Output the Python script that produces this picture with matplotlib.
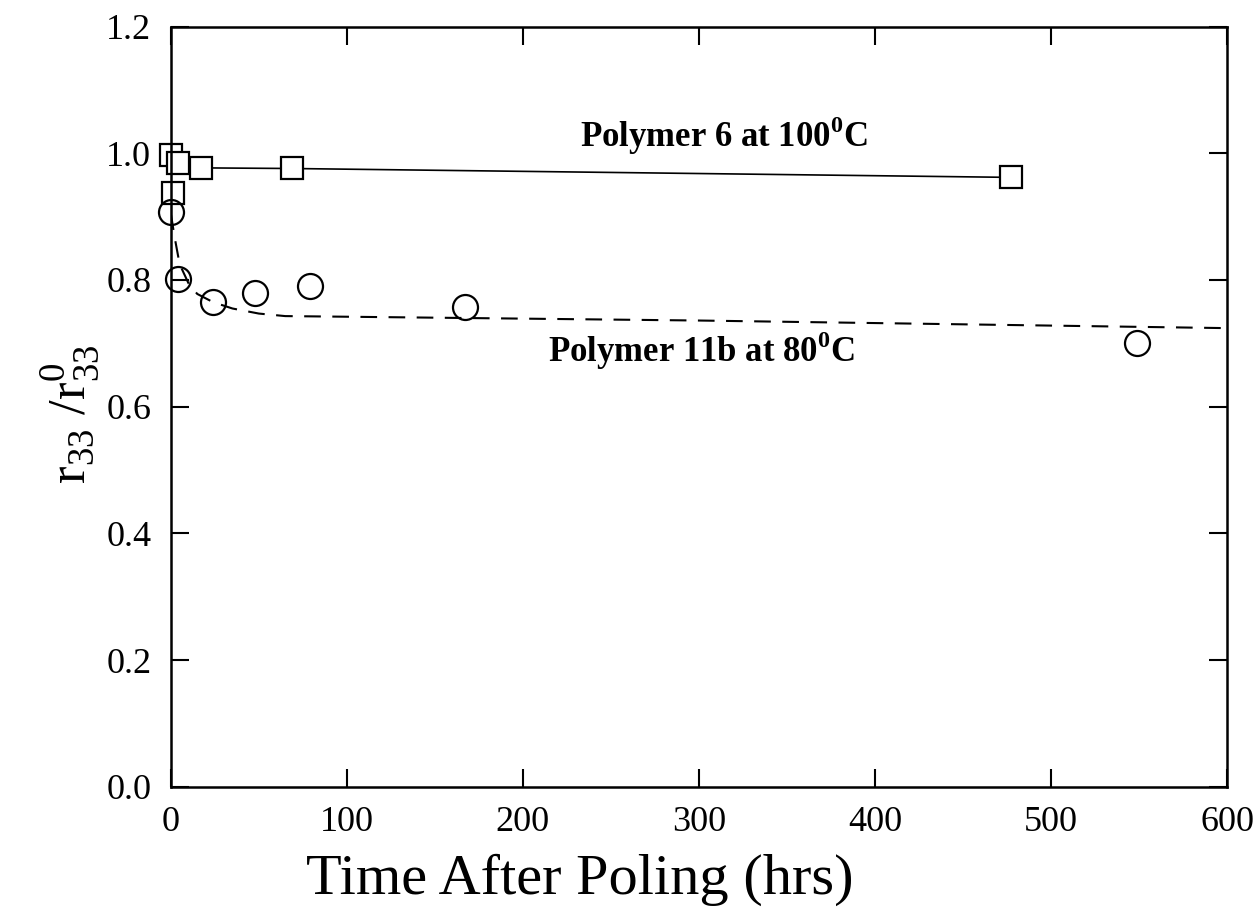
"""
Poling stability of two polymers
r33 / r33(0) against time after poling
"""

import matplotlib
matplotlib.use("Agg")
import matplotlib.pyplot as plt

plt.rcParams["font.family"] = ["Liberation Serif", "DejaVu Serif"]
plt.rcParams["mathtext.fontset"] = "custom"
plt.rcParams["mathtext.rm"] = "Liberation Serif"
plt.rcParams["mathtext.bf"] = "Liberation Serif:bold"

# polymer 6 at 100 C (squares + solid fit)
p6_time = [0, 4, 17, 69, 477, 1]
p6_ratio = [0.998, 0.985, 0.977, 0.977, 0.962, 0.937]
p6_fit_time = [0, 4, 17, 69, 477]
p6_fit_ratio = [0.998, 0.985, 0.977, 0.976, 0.962]

# polymer 11b at 80 C (circles + dashed fit)
p11_time = [0, 4, 24, 48, 79, 167, 549]
p11_ratio = [0.908, 0.802, 0.766, 0.780, 0.791, 0.757, 0.700]
p11_fit_time = [0, 2, 5, 10, 15, 24, 35, 50, 65, 100, 200, 300, 400, 500, 600]
p11_fit_ratio = [0.905, 0.870, 0.825, 0.795, 0.778, 0.765, 0.755, 0.747,
                 0.743, 0.742, 0.739, 0.736, 0.732, 0.728, 0.724]

x_ticks = [0, 100, 200, 300, 400, 500, 600]
y_ticks = [0.0, 0.2, 0.4, 0.6, 0.8, 1.0, 1.2]

# --------------------------------------------------

fig = plt.figure(figsize=(12.56, 9.18), dpi=100)
ax = fig.add_axes([0.136, 0.143, 0.841, 0.828])

ax.plot(p6_fit_time, p6_fit_ratio, color="black", lw=1.2)
ax.plot(p11_fit_time, p11_fit_ratio, color="black", lw=1.5,
        dashes=(8, 5.5))

ax.plot(p6_time, p6_ratio, ls="none", marker="s", ms=16.5,
        mfc="white", mec="black", mew=1.6, clip_on=False)
ax.plot(p11_time, p11_ratio, ls="none", marker="o", ms=18,
        mfc="none", mec="black", mew=1.6, clip_on=False)

ax.set_xlim(0, 600)
ax.set_ylim(0, 1.2)
ax.set_xticks(x_ticks)
ax.set_yticks(y_ticks)
ax.set_xticklabels([str(t) for t in x_ticks])
ax.set_yticklabels([f"{t:.1f}" for t in y_ticks])

ax.tick_params(direction="in", length=13, width=1.5, top=True,
               right=True, labelsize=26, pad=14)
for s in ax.spines.values():
    s.set_linewidth(1.8)

ax.set_xlabel("Time After Poling (hrs)", fontsize=42, va="center")
ax.xaxis.set_label_coords(0.387, -0.122)
ax.set_ylabel(r"r$_{\mathrm{33}}$ /r$^{\mathrm{0}}_{\mathrm{33}}$",
              fontsize=38, va="center")
ax.yaxis.set_label_coords(-0.095, 0.49)

ax.text(580 / 1.76 - 171 / 1.76, 1.01,
        r"Polymer 6 at 100$^{\mathbf{0}}$C", fontsize=25,
        fontweight="bold", va="baseline")
ax.text(548 / 1.76 - 171 / 1.76, 0.67,
        r"Polymer 11b at 80$^{\mathbf{0}}$C", fontsize=25,
        fontweight="bold", va="baseline")

fig.savefig("out.png", dpi=100)
plt.close(fig)
